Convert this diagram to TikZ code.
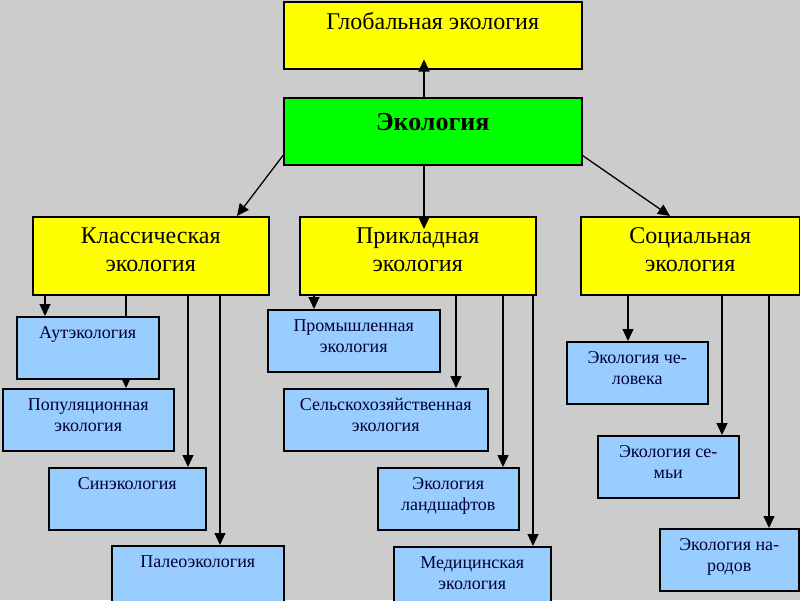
\documentclass[tikz,border=0pt]{standalone}
\usepackage{fontspec}
\setmainfont{Liberation Serif}
\usepackage{tikz}
\usetikzlibrary{arrows.meta,shapes,positioning,calc}
\usepackage{xcolor}
\definecolor{ecogray}{RGB}{204,204,204}
\definecolor{ecoyellow}{RGB}{255,255,0}
\definecolor{ecogreen}{RGB}{0,255,0}
\definecolor{ecoblue}{RGB}{153,204,255}
\definecolor{ecotext}{RGB}{0,0,51}
\tikzstyle{ecobox} = [rectangle, anchor=north west, draw=black, line width=1.5pt, inner sep=0pt, align=center]
\tikzstyle{topbox} = [ecobox, fill=ecoyellow, font=\fontsize{24}{28}\selectfont, text height=55pt, text depth=23pt]
\tikzstyle{subbox} = [ecobox, fill=ecoblue, text=ecotext, font=\fontsize{18}{21}\selectfont, text height=22pt, text depth=40pt]
\tikzstyle{subboxtwo} = [subbox, text height=43pt, text depth=19pt]
\tikzstyle{arrow} = [line width=1.3pt, -{Triangle[width=11pt,length=12pt]}, color=black]

\begin{document}
\begin{tikzpicture}[x=1pt, y=-1pt]
\fill[ecogray] (0,0) rectangle (800,600);
\clip (0,0) rectangle (800,600);

% Top level
\node[ecobox, fill=ecoyellow, minimum width=298pt, font=\fontsize{24}{28}\selectfont, text height=28pt, text depth=39pt] (global) at (283,1) {Глобальная экология};
\node[ecobox, fill=ecogreen, minimum width=298pt, font=\fontsize{26}{30}\selectfont\bfseries, text height=33pt, text depth=34pt] (eco) at (283,97) {Экология};

% Branches
\node[topbox, minimum width=236pt] (klass) at (32,216) {Классическая\\экология};
\node[topbox, minimum width=236pt] (prikl) at (299,216) {Прикладная\\экология};
\node[topbox, minimum width=219pt] (soc) at (580,216) {Социальная\\экология};

\draw[arrow] (eco.north -| 424,0) -- ($(global.south -| 424,0)+(0,-10)$);
\draw[arrow] (eco.south -| 424,0) -- ($(prikl.north -| 424,0)+(0,13)$);
\draw[arrow] ($(eco.south west)+(0,-10)$) -- (klass.north -| 237,0);
\draw[arrow] ($(eco.south east)+(0,-10)$) -- (soc.north -| 670,0);

% hidden behind Аутэкология
\draw[arrow] (klass.south -| 126,0) -- (126,388);

% Classical ecology
\node[subbox, minimum width=142pt] (aut) at (16,316) {Аутэкология};
\node[subboxtwo, minimum width=171pt] (pop) at (2,388) {Популяционная\\экология};
\node[subbox, minimum width=157pt] (syn) at (48,467) {Синэкология};
\node[subbox, minimum width=172pt] (paleo) at (111,545) {Палеоэкология};

% Applied ecology
\node[subboxtwo, minimum width=172pt] (prom) at (267,309) {Промышленная\\экология};
\node[subboxtwo, minimum width=204pt] (selsk) at (283,388) {Сельскохозяйственная\\экология};
\node[subboxtwo, minimum width=141pt] (land) at (377,467) {Экология\\ландшафтов};
\node[subboxtwo, minimum width=157pt] (med) at (393,546) {Медицинская\\экология};

% Social ecology
\node[subboxtwo, minimum width=141pt] (chel) at (566,341) {Экология че-\\ловека};
\node[subboxtwo, minimum width=141pt] (sem) at (597,435) {Экология се-\\мьи};
\node[subboxtwo, minimum width=139pt] (nar) at (659,528) {Экология на-\\родов};

\draw[arrow] (klass.south -| 45,0) -- (aut.north -| 45,0);
\draw[arrow] (klass.south -| 188,0) -- (syn.north -| 188,0);
\draw[arrow] (klass.south -| 220,0) -- (paleo.north -| 220,0);

\draw[arrow] (prikl.south -| 314,0) -- (prom.north -| 314,0);
\draw[arrow] (prikl.south -| 456,0) -- (selsk.north -| 456,0);
\draw[arrow] (prikl.south -| 503,0) -- (land.north -| 503,0);
\draw[arrow] (prikl.south -| 533,0) -- (med.north -| 533,0);

\draw[arrow] (soc.south -| 628,0) -- (chel.north -| 628,0);
\draw[arrow] (soc.south -| 722,0) -- (sem.north -| 722,0);
\draw[arrow] (soc.south -| 769,0) -- (nar.north -| 769,0);
\end{tikzpicture}
\end{document}
